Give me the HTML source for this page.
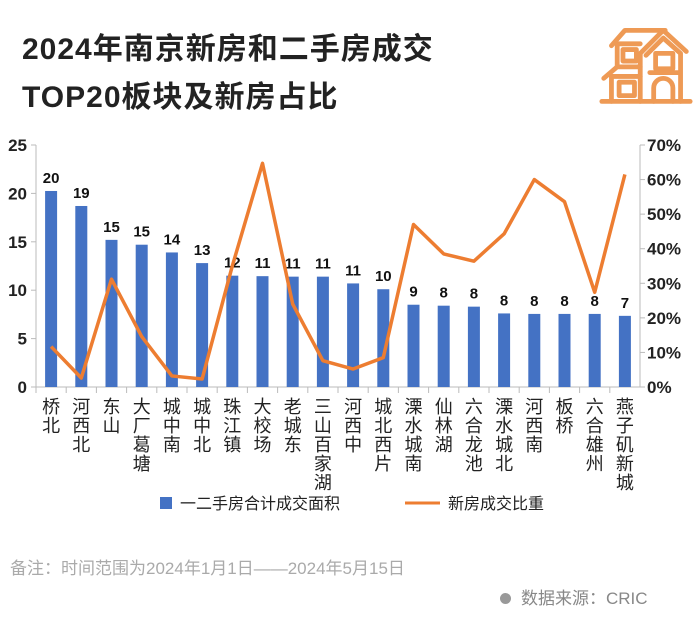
<!DOCTYPE html>
<html><head><meta charset="utf-8"><style>
body{margin:0;width:700px;height:619px;background:#fff;font-family:"Liberation Sans","Noto Sans CJK SC",sans-serif;overflow:hidden;position:relative}
.t{position:absolute;left:22px;font-size:30px;font-weight:bold;color:#222;letter-spacing:1px}
</style></head><body>
<div class="t" style="top:24px">2024年南京新房和二手房成交</div>
<div class="t" style="top:72px">TOP20板块及新房占比</div>
<svg style="position:absolute;left:598px;top:20px" width="96" height="86" viewBox="0 0 100 88" fill="none" stroke="#ee9a55" stroke-width="5" stroke-linejoin="round" stroke-linecap="round">
<path d="M4 84H96"/><path d="M14 84V58H44"/><path d="M6 60L20 48H44"/><path d="M20 48V24H44"/><path d="M14 26L28 10H70"/><path d="M44 84V34L68 10L92 32"/><path d="M50 36L68 18L86 34V84"/>
<rect x="26" y="30" width="14" height="12"/><rect x="60" y="34" width="18" height="16"/><path d="M54 54H84"/><rect x="22" y="64" width="16" height="14"/><path d="M58 84V70A10 10 0 0 1 78 70V84"/>
</svg>
<svg id="chart" width="700" height="619" style="position:absolute;left:0;top:0"></svg>
<div style="position:absolute;left:10px;top:554px;font-size:17px;color:#aaa">备注：时间范围为2024年1月1日——2024年5月15日</div>
<div style="position:absolute;left:500px;top:584px;font-size:17px;color:#888"><span style="display:inline-block;width:11px;height:11px;border-radius:50%;background:#999;margin-right:10px"></span>数据来源：CRIC</div>
<script>
const categories=["桥北","河西北","东山","大厂葛塘","城中南","城中北","珠江镇","大校场","老城东","三山百家湖","河西中","城北西片","溧水城南","仙林湖","六合龙池","溧水城北","河西南","板桥","六合雄州","燕子矶新城"];
const areaValues=[20.25,18.7,15.2,14.7,13.9,12.8,11.5,11.45,11.4,11.4,10.7,10.1,8.5,8.4,8.3,7.6,7.55,7.55,7.55,7.35];
const areaLabels=["20","19","15","15","14","13","12","11","11","11","11","10","9","8","8","8","8","8","8","7"];
const shareValues=[11.7,2.6,31.2,14.6,3.2,2.3,35,64.7,24,7.6,5.2,8.5,47,38.5,36.4,44.3,60,53.6,27.4,61.5];
const leftTicks=[0,5,10,15,20,25];
const rightTicks=[0,10,20,30,40,50,60,70];
const NS="http://www.w3.org/2000/svg",svg=document.getElementById('chart');
const X0=36,X1=640,Y0=387,Y1=145;
const step=(X1-X0)/categories.length;
const xc=i=>X0+step*(i+0.5);
const yL=v=>Y0-(v/25)*(Y0-Y1);
const yR=v=>Y0-(v/70)*(Y0-Y1);
function el(t,a,txt){const e=document.createElementNS(NS,t);for(const k in a)e.setAttribute(k,a[k]);if(txt!=null)e.textContent=txt;svg.appendChild(e);return e;}
let e;
e=el('line',{x1:X0,y1:Y1,x2:X0,y2:Y0,stroke:'#bbb'});
e=el('line',{x1:X1,y1:Y1,x2:X1,y2:Y0,stroke:'#bbb'});
e=el('line',{x1:X0,y1:Y0,x2:X1,y2:Y0,stroke:'#bbb'});
leftTicks.forEach(v=>{el('line',{x1:X0-5,x2:X0,y1:yL(v),y2:yL(v),stroke:'#bbb'});
e=el('text',{x:X0-9,y:yL(v)+6,'text-anchor':'end','font-size':17,'font-weight':'bold',fill:'#222'},v);});
rightTicks.forEach(v=>{el('line',{x1:X1,x2:X1+5,y1:yR(v),y2:yR(v),stroke:'#bbb'});
e=el('text',{x:X1+7,y:yR(v)+6,'font-size':17,'font-weight':'bold',fill:'#222'},v+'%');});
categories.forEach((c,i)=>{
 el('line',{x1:X0+step*i,x2:X0+step*i,y1:Y0,y2:Y0+6,stroke:'#bbb'});
 e=el('rect',{x:xc(i)-6,y:yL(areaValues[i]),width:12,height:Y0-yL(areaValues[i]),fill:'#4472c4'});
 e=el('text',{x:xc(i),y:yL(areaValues[i])-8,'text-anchor':'middle','font-size':15,'font-weight':'bold',fill:'#111'},areaLabels[i]);
 [...c].forEach((ch,j)=>{e=el('text',{x:xc(i),y:413+j*19,'text-anchor':'middle','font-size':18,fill:'#222'},ch);});
});
e=el('polyline',{points:shareValues.map((v,i)=>xc(i)+','+yR(v)).join(' '),fill:'none',stroke:'#ed7d31','stroke-width':3.5,'stroke-linejoin':'round'});
e=el('rect',{x:160,y:497,width:12,height:12,fill:'#4472c4'});
e=el('text',{x:180,y:509,'font-size':16,fill:'#222'},'一二手房合计成交面积');
e=el('line',{x1:405,x2:440,y1:503,y2:503,stroke:'#ed7d31','stroke-width':3});
e=el('text',{x:448,y:509,'font-size':16,fill:'#222'},'新房成交比重');
</script>
</body></html>
